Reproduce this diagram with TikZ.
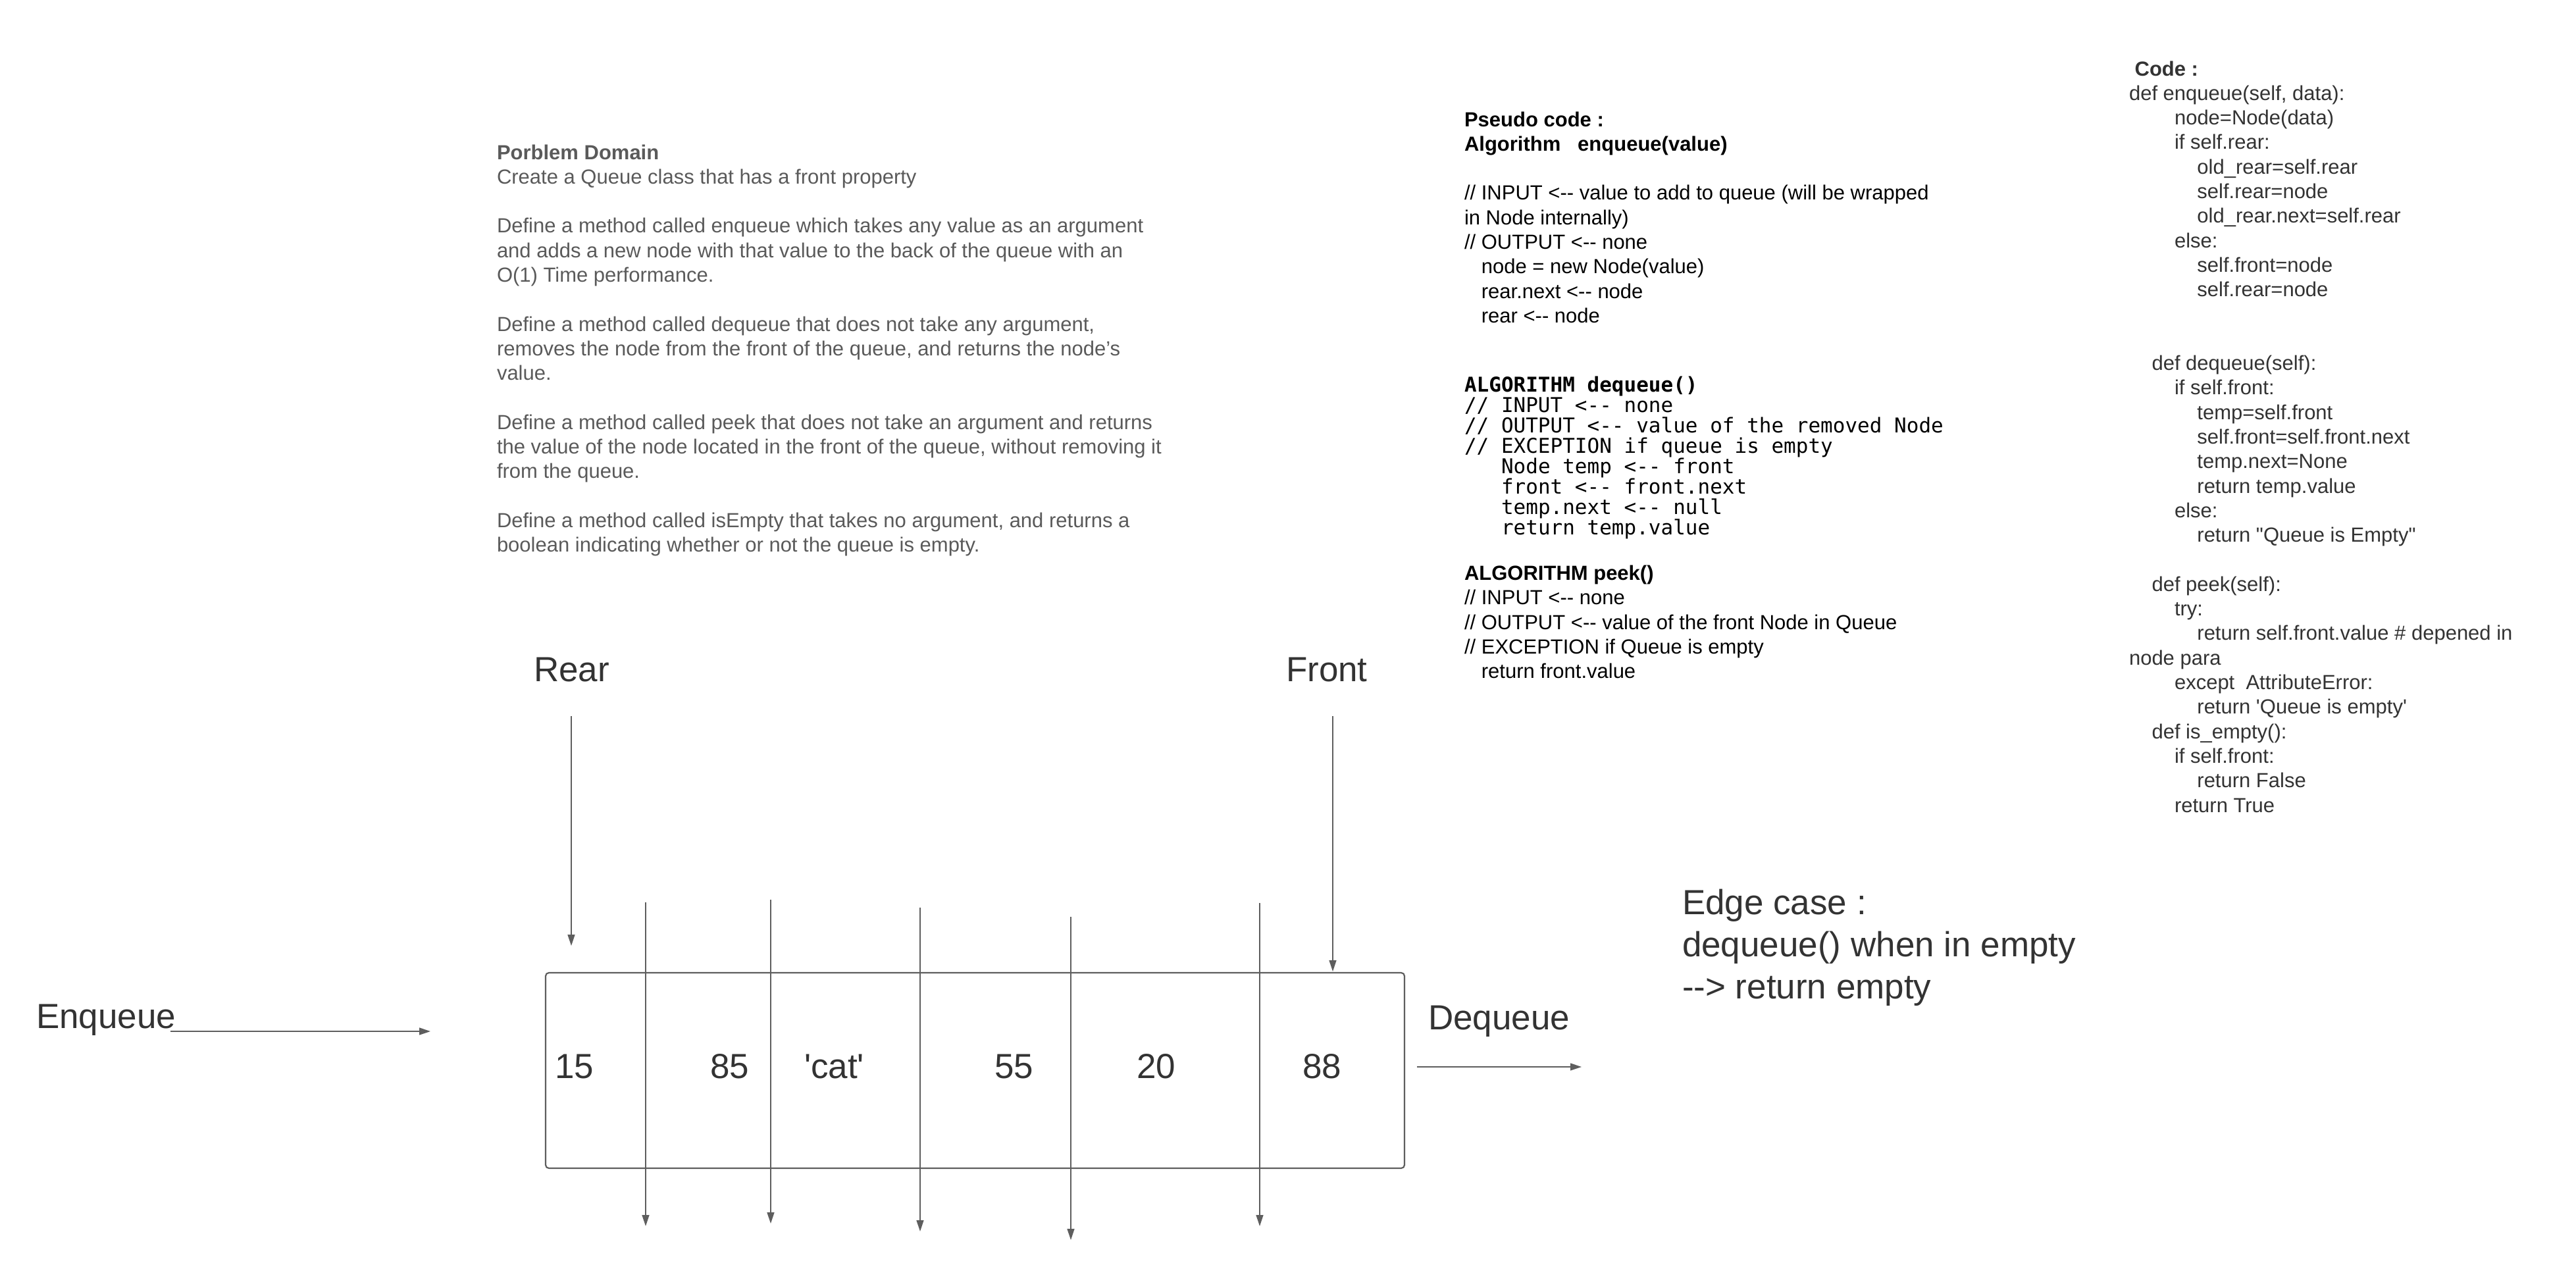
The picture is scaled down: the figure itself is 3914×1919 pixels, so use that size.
\documentclass[tikz,border=0pt]{standalone}
\usepackage{fontspec}
\usetikzlibrary{arrows.meta}
\newfontfamily\arial{Liberation Sans}
\newfontfamily\dmono{DejaVu Sans Mono}
\definecolor{pdgray}{HTML}{5A5A5A}
\definecolor{dark}{HTML}{333333}
\definecolor{linegray}{HTML}{5E5E5E}
\newcommand\dd{-\kern0pt-}
\newcommand\sq{\textquotesingle}
\newcommand\dq{\textquotedbl}
\newcommand\txtblock[2]{\vtop{\baselineskip=#1\lineskiplimit=-1000pt\lineskip=0pt #2}}
\newcommand\lnx[1]{\hbox{#1}}
\newcommand\ind[1]{\kern#1pt}
\begin{document}
\begin{tikzpicture}[x=1pt,y=-1pt,
  txt/.style={anchor=base west, inner sep=0pt, outer sep=0pt},
  small/.style={txt, font=\arial\fontsize{31}{37.3}\selectfont},
  big/.style={txt, text=dark, font=\arial\fontsize{53}{64}\selectfont},
  arr/.style={draw=linegray, line width=1.5pt, -{Triangle[length=17pt,width=11pt]}},
  qbox/.style={draw=linegray, line width=2.2pt, rounded corners=5pt, inner sep=0pt}]
\fill[white] (0,0) rectangle (3914,1919);
\useasboundingbox (0,0) rectangle (3914,1919);

% Problem domain
\node[small, text=pdgray] (pd) at (755,242) {\txtblock{37.3pt}{%
\lnx{\bfseries Porblem Domain}
\lnx{Create a Queue class that has a front property}
\lnx{}
\lnx{Define a method called enqueue which takes any value as an argument}
\lnx{and adds a new node with that value to the back of the queue with an}
\lnx{O(1) Time performance.}
\lnx{}
\lnx{Define a method called dequeue that does not take any argument,}
\lnx{removes the node from the front of the queue, and returns the node’s}
\lnx{value.}
\lnx{}
\lnx{Define a method called peek that does not take an argument and returns}
\lnx{the value of the node located in the front of the queue, without removing it}
\lnx{from the queue.}
\lnx{}
\lnx{Define a method called isEmpty that takes no argument, and returns a}
\lnx{boolean indicating whether or not the queue is empty.}}};

% Pseudo code: enqueue
\node[small, text=black] (pseudo) at (2225,192) {\txtblock{37.3pt}{%
\lnx{\bfseries Pseudo code :}
\lnx{\bfseries Algorithm\ \ \ enqueue(value)}
\lnx{}
\lnx{// INPUT <\dd\ value to add to queue (will be wrapped}
\lnx{in Node internally)}
\lnx{// OUTPUT <\dd\ none}
\lnx{\ind{25.9}node = new Node(value)}
\lnx{\ind{25.9}rear.next <\dd\ node}
\lnx{\ind{25.9}rear <\dd\ node}}};

% Pseudo code: dequeue (monospace)
\node[txt, text=black, font=\dmono\fontsize{31}{31}\selectfont] (deq) at (2225,595) {\txtblock{31pt}{%
\lnx{\bfseries ALGORITHM dequeue()}
\lnx{// INPUT <\dd\ none}
\lnx{// OUTPUT <\dd\ value of the removed Node}
\lnx{// EXCEPTION if queue is empty}
\lnx{\ind{56}Node temp <\dd\ front}
\lnx{\ind{56}front <\dd\ front.next}
\lnx{\ind{56}temp.next <\dd\ null}
\lnx{\ind{56}return temp.value}}};

% Pseudo code: peek
\node[small, text=black] (peek) at (2225,881.5) {\txtblock{37.3pt}{%
\lnx{\bfseries ALGORITHM peek()}
\lnx{// INPUT <\dd\ none}
\lnx{// OUTPUT <\dd\ value of the front Node in Queue}
\lnx{// EXCEPTION if Queue is empty}
\lnx{\ind{25.9}return front.value}}};

% Code
\node[small, text=dark] (code) at (3235,115) {\txtblock{37.3pt}{%
\lnx{\ind{8.6}\bfseries Code :}
\lnx{def enqueue(self, data):}
\lnx{\ind{69}node=Node(data)}
\lnx{\ind{69}if self.rear:}
\lnx{\ind{103.4}old\_rear=self.rear}
\lnx{\ind{103.4}self.rear=node}
\lnx{\ind{103.4}old\_rear.next=self.rear}
\lnx{\ind{69}else:}
\lnx{\ind{103.4}self.front=node}
\lnx{\ind{103.4}self.rear=node}
\lnx{}
\lnx{}
\lnx{\ind{34.5}def dequeue(self):}
\lnx{\ind{69}if self.front:}
\lnx{\ind{103.4}temp=self.front}
\lnx{\ind{103.4}self.front=self.front.next}
\lnx{\ind{103.4}temp.next=None}
\lnx{\ind{103.4}return temp.value}
\lnx{\ind{69}else:}
\lnx{\ind{103.4}return \dq Queue is Empty\dq}
\lnx{}
\lnx{\ind{34.5}def peek(self):}
\lnx{\ind{69}try:}
\lnx{\ind{103.4}return self.front.value \# depened in}
\lnx{node para}
\lnx{\ind{69}except\ \ AttributeError:}
\lnx{\ind{103.4}return \sq Queue is empty\sq}
\lnx{\ind{34.5}def is\_empty():}
\lnx{\ind{69}if self.front:}
\lnx{\ind{103.4}return False}
\lnx{\ind{69}return True}}};

% Labels
\node[big] (rear) at (811,1035) {Rear};
\node[big] (front) at (1954,1035) {Front};
\node[big] (enq) at (55,1562) {Enqueue};
\node[big] (deqlbl) at (2170,1564) {Dequeue};
\node[big] (edge) at (2556,1389) {\txtblock{64pt}{%
\lnx{Edge case :}
\lnx{dequeue() when in empty}
\lnx{\dd> return empty}}};

% Queue box
\node[qbox, minimum width=1305pt, minimum height=297pt] (queue) at (1481.5,1626.5) {};

% Values
\node[big] (v1) at (843,1638) {15};
\node[big] (v2) at (1079,1638) {85};
\node[big] (v3) at (1222,1638) {\sq cat\sq};
\node[big] (v4) at (1511,1638) {55};
\node[big] (v5) at (1727,1638) {20};
\node[big] (v6) at (1979,1638) {88};

% Rear / Front pointers
\coordinate (rearS) at (868,1088);
\coordinate (rearE) at (868,1437);
\coordinate (frontS) at (2025,1088);
\coordinate (frontE) at (2025,1476);
\draw[arr] (rearS) -- (rearE);
\draw[arr] (frontS) -- (frontE);

% Vertical node links
\coordinate (t1) at (981,1371);  \coordinate (b1) at (981,1863);
\coordinate (t2) at (1171,1367); \coordinate (b2) at (1171,1859);
\coordinate (t3) at (1398,1379); \coordinate (b3) at (1398,1871);
\coordinate (t4) at (1627,1393); \coordinate (b4) at (1627,1884);
\coordinate (t5) at (1914,1372); \coordinate (b5) at (1914,1863);
\draw[arr] (t1) -- (b1);
\draw[arr] (t2) -- (b2);
\draw[arr] (t3) -- (b3);
\draw[arr] (t4) -- (b4);
\draw[arr] (t5) -- (b5);

% Enqueue / Dequeue arrows
\coordinate (enqS) at (259,1567);
\coordinate (enqE) at (654,1567);
\coordinate (deqS) at (2153,1621);
\coordinate (deqE) at (2403,1621);
\draw[arr] (enqS) -- (enqE);
\draw[arr] (deqS) -- (deqE);
\end{tikzpicture}
\end{document}
